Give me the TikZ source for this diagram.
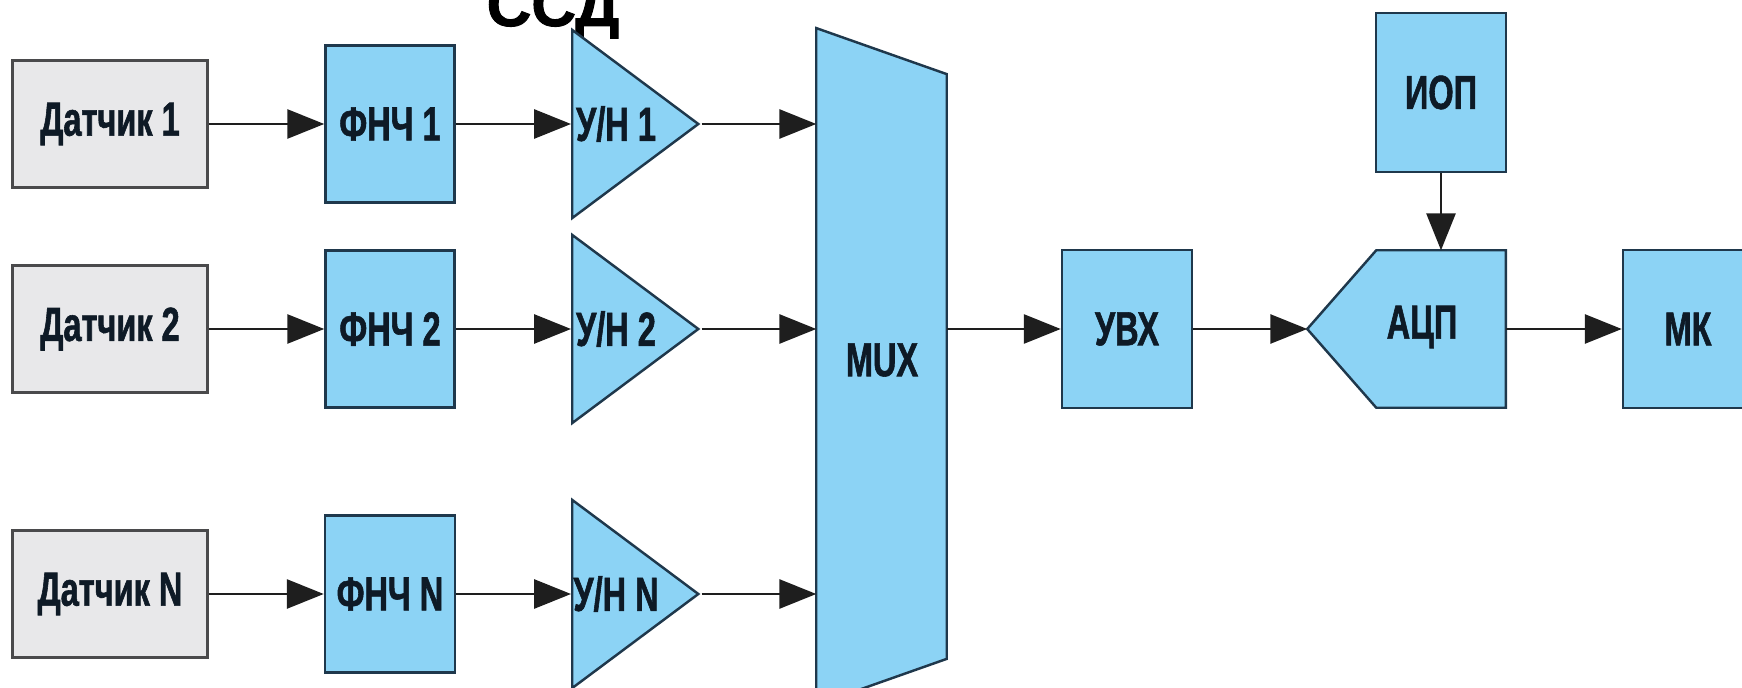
\documentclass[tikz,border=0pt]{standalone}
\usepackage{fontspec}
\usepackage{xcolor}
\usepackage{tikz}
\usetikzlibrary{positioning, shapes.geometric, arrows.meta}
\newfontfamily\condfont[FakeStretch=0.68, FakeBold=1.2]{Liberation Sans Bold}
\newfontfamily\titlefont[FakeBold=1.5]{Liberation Sans Bold}
\newcommand{\blocklbl}{\condfont\fontsize{13.6}{15}\selectfont}
\definecolor{skyfill}{RGB}{140, 211, 245}
\definecolor{navyline}{RGB}{31, 56, 76}
\definecolor{grayfill}{RGB}{232, 232, 234}
\definecolor{grayline}{RGB}{74, 74, 76}
\definecolor{labeltext}{RGB}{14, 26, 38}
\definecolor{wire}{RGB}{30, 30, 30}

\begin{document}
\begin{tikzpicture}[x=0.01cm, y=-0.01cm,
  every node/.style={align=center, font=\blocklbl, text=labeltext},
  sensor/.style={draw=grayline, fill=grayfill, line width=0.8pt, minimum width=1.95cm, minimum height=1.27cm},
  block/.style={draw=navyline, fill=skyfill, line width=0.7pt, minimum width=1.3cm, minimum height=1.58cm},
  amp/.style={isosceles triangle, isosceles triangle stretches, draw=navyline, fill=skyfill, line width=0.7pt, inner sep=0pt, minimum width=1.88cm, minimum height=1.26cm, anchor=west},
  ghost/.style={inner sep=0pt},
  wirearrow/.style={-{Triangle[length=10.5pt, width=8.3pt]}, line width=0.6pt, draw=wire}]
\useasboundingbox (0,0) rectangle (1742,688);

% Title
\node[font=\titlefont\fontsize{17.6}{20}\selectfont, text=black, anchor=base, inner sep=0pt] (title) at (553,26) {ССД};

% Sensors
\node[sensor] (sens1) at (110,124) {Датчик 1};
\node[sensor] (sens2) at (110,329) {Датчик 2};
\node[sensor] (sensN) at (110,594) {Датчик N};

% Low-pass filters
\node[block, minimum width=1.29cm, minimum height=1.57cm] (lpf1) at (390,124) {ФНЧ 1};
\node[block, minimum width=1.29cm, minimum height=1.57cm] (lpf2) at (390,329) {ФНЧ 2};
\node[block, minimum width=1.29cm, minimum height=1.57cm] (lpfN) at (390,594) {ФНЧ N};

% Sample and hold
\node[amp] (sh1) at (571,124) {};
\node[amp] (sh2) at (571,329) {};
\node[amp] (shN) at (571,594) {};
\node[ghost] (sh1lbl) at (616,124) {У/Н 1};
\node[ghost] (sh2lbl) at (616,329) {У/Н 2};
\node[ghost] (shNlbl) at (616,594) {У/Н N};

% Multiplexer
\node[ghost, minimum width=1.29cm, minimum height=6.75cm] (mux) at (881.5,366.5) {};
\draw[draw=navyline, fill=skyfill, line width=0.7pt] (mux.north west) -- ([yshift=-0.46cm]mux.north east) -- ([yshift=0.46cm]mux.south east) -- (mux.south west) -- cycle;
\node[ghost] (muxlbl) at (882,360) {MUX};

% Conversion
\node[block] (uvx) at (1127,329) {УВХ};
\node[ghost, minimum width=1.97cm, minimum height=1.56cm] (adc) at (1406.5,329) {};
\draw[draw=navyline, fill=skyfill, line width=0.7pt] (adc.west) -- ([xshift=0.69cm]adc.north west) -- (adc.north east) -- (adc.south east) -- ([xshift=0.69cm]adc.south west) -- cycle;
\node[ghost] (adclbl) at (1422,327) {АЦП};
\node[block, minimum height=1.59cm] (iop) at (1441,92.5) {ИОП};
\node[block] (mk) at (1688,329) {МК};

% Arrows
\draw[wirearrow] (sens1) -- (lpf1);
\draw[wirearrow] (sens2) -- (lpf2);
\draw[wirearrow] (sensN) -- (lpfN);
\draw[wirearrow] (lpf1) -- (sh1.west);
\draw[wirearrow] (lpf2) -- (sh2.west);
\draw[wirearrow] (lpfN) -- (shN.west);
\draw[wirearrow] (sh1.apex) -- (sh1.apex -| mux.west);
\draw[wirearrow] (sh2.apex) -- (sh2.apex -| mux.west);
\draw[wirearrow] (shN.apex) -- (shN.apex -| mux.west);
\draw[wirearrow] (uvx.west -| mux.east) -- (uvx.west);
\draw[wirearrow] (uvx) -- (adc.west);
\draw[wirearrow] (iop) -- (iop |- adc.north);
\draw[wirearrow] (adc) -- (mk);
\end{tikzpicture}
\end{document}
